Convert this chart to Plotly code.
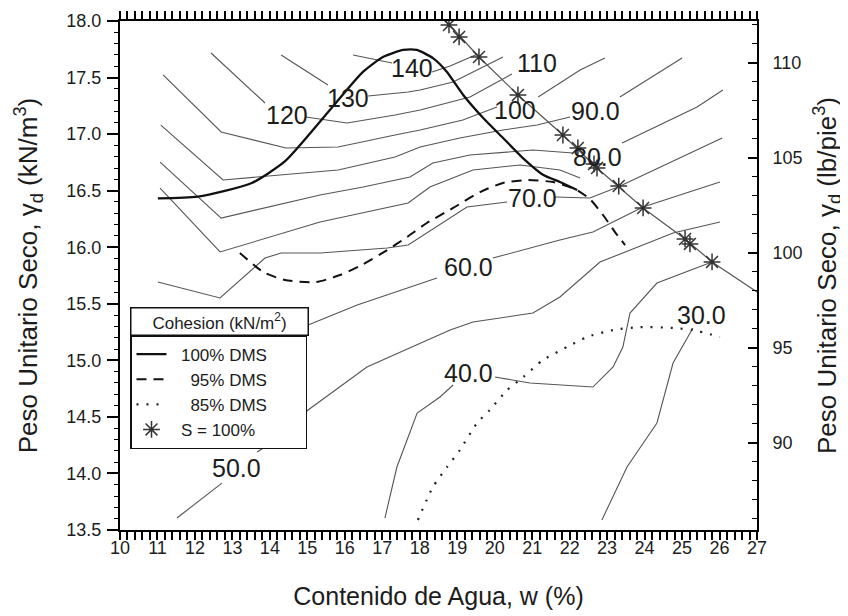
import plotly.graph_objects as go

# ---------------- data (w in %, gamma_d in kN/m3) ----------------
# cohesion contour polylines; None = gap where a label sits
c140_w = [16.22, 17.26, None, 18.33, 18.81, 19.55]
c140_g = [17.699, 17.629, None, 17.549, 17.602, 17.708]

c130_w = [14.30, 15.55, None, 16.62, 17.69, 18.01, 18.89, 20.22]
c130_g = [17.699, 17.434, None, 17.337, 17.372, 17.390, 17.461, 17.682]

c120_w = [12.43, 13.87, None, 14.96, 16.06, 17.34, 18.01, 19.34, 20.46]
c120_g = [17.717, 17.275, None, 17.151, 17.098, 17.169, 17.213, 17.328, 17.531]

c100_w = [11.15, 12.70, 14.43, 15.82, 17.34, 18.01, 19.15, 20.06, None, 21.16, 22.28, 22.94]
c100_g = [17.523, 17.019, 16.877, 16.886, 16.992, 17.036, 17.125, 17.240, None, 17.328, 17.567, 17.673]

c90_w = [11.09, 12.75, 15.82, 17.34, 18.01, 19.07, 20.22, 21.13, 22.01, None, 23.34, 25.00]
c90_g = [17.080, 16.594, 16.683, 16.797, 16.886, 16.966, 17.036, 17.080, 17.151, None, 17.328, 17.673]

c80_w = [11.07, 12.70, 15.34, 16.49, 17.74, 18.35, 19.34, 20.33, 21.02, 22.09, None, 23.40, 25.40, 26.09]
c80_g = [16.753, 16.258, 16.462, 16.532, 16.621, 16.744, 16.815, 16.842, 16.859, 16.833, None, 16.921, 17.240, 17.390]

c75_w = [11.07, 12.67, 15.34, 17.69, 18.27, 19.42, 20.68, 21.74, 22.28]
c75_g = [16.523, 15.958, 16.223, 16.391, 16.532, 16.683, 16.727, 16.683, 16.612]

c70_w = [11.01, 12.67, 13.87, 14.30, 15.34, 17.13, 17.69, 19.26, 20.33, None, 21.61, 22.54, 23.29, 26.07]
c70_g = [15.692, 15.551, 15.904, 15.949, 15.949, 15.993, 16.019, 16.355, 16.400, None, 16.444, 16.435, 16.532, 16.966]

c60_w = [14.40, 15.02, 16.33, 18.46, None, 19.95, 21.74, 22.62, 23.96, 26.01]
c60_g = [15.241, 15.312, 15.489, 15.728, None, 15.904, 16.064, 16.134, 16.355, 16.576]

c50_w = [11.52, 12.72, None, 13.66, 14.08, 15.02, 16.59, 18.81, 19.42, 21.02, 21.74, 22.81, 24.76, 26.01]
c50_g = [13.606, 13.915, None, 14.189, 14.278, 14.561, 14.941, 15.268, 15.339, 15.418, 15.560, 15.869, 16.126, 16.223]

c40_w = [17.07, 17.39, 17.93, 18.54, 18.89, None, 20.01, 20.94, 22.62, 23.16, 23.42, 23.61, 24.33, 25.80]
c40_g = [13.606, 14.057, 14.534, 14.676, 14.782, None, 14.852, 14.799, 14.764, 14.941, 15.118, 15.418, 15.683, 15.869]

c30_w = [22.86, 23.53, 24.33, 24.76, 25.29]
c30_g = [13.588, 14.057, 14.446, 14.976, 15.286]

contour_w = [c140_w, c130_w, c120_w, c100_w, c90_w, c80_w, c75_w, c70_w, c60_w, c50_w, c40_w, c30_w]
contour_g = [c140_g, c130_g, c120_g, c100_g, c90_g, c80_g, c75_g, c70_g, c60_g, c50_g, c40_g, c30_g]

label_text = ["140", "130", "120", "110", "100", "90.0", "80.0", "70.0", "60.0", "50.0", "40.0", "30.0"]
label_w = [17.79, 16.08, 14.46, 21.13, 20.54, 22.68, 22.73, 21.00, 19.31, 13.12, 19.29, 25.53]
label_g = [17.584, 17.319, 17.169, 17.629, 17.213, 17.204, 16.797, 16.435, 15.825, 14.048, 14.888, 15.400]

# compaction curves
dms100_w = [11.01, 12.08, 13.50, 14.39, 15.11, 15.64, 16.49, 17.03, 17.56, 17.92, 18.36, 18.72,
            19.16, 19.70, 20.23, 20.76, 21.30, 21.74, 22.20]
dms100_g = [16.432, 16.447, 16.565, 16.756, 17.021, 17.228, 17.552, 17.684, 17.744, 17.744, 17.670,
            17.552, 17.346, 17.140, 16.963, 16.786, 16.638, 16.577, 16.506]

dms95_w = [13.20, 13.82, 14.40, 15.23, 15.87, 16.40, 17.13, 17.66, 18.19, 18.89, 19.61, 20.22,
           20.86, 21.56, 22.14, 22.54, 22.89, 23.21, 23.48]
dms95_g = [15.949, 15.781, 15.710, 15.692, 15.754, 15.834, 15.975, 16.090, 16.214, 16.347, 16.488,
           16.568, 16.594, 16.576, 16.515, 16.426, 16.285, 16.134, 16.019]

dms85_w = [17.95, 18.35, 18.73, 19.07, 19.53, 19.87, 20.33, 20.76, 21.29, 21.93, 22.46, 23.16,
           23.88, 24.76, 25.29, 26.01]
dms85_g = [13.588, 13.880, 14.057, 14.207, 14.446, 14.561, 14.737, 14.852, 15.003, 15.118, 15.206,
           15.268, 15.294, 15.286, 15.268, 15.206]

# saturation line (S = 100 %) and its asterisk points
sat_w = [18.70, 19.58, 20.62, 21.82, 22.73, 23.96, 25.08, 25.80, 27.00]
sat_g = [18.000, 17.682, 17.346, 16.992, 16.700, 16.347, 16.073, 15.870, 15.604]
sat_pts_w = [18.78, 19.05, 19.58, 20.62, 21.82, 22.22, 22.65, 22.73, 23.31, 23.96, 25.08, 25.21, 25.80]
sat_pts_g = [17.965, 17.859, 17.682, 17.346, 16.992, 16.877, 16.736, 16.700, 16.541, 16.347, 16.073,
             16.029, 15.870]

legend_names = ["&nbsp;&nbsp;100% DMS&nbsp;&nbsp;&nbsp;&nbsp;&nbsp;&nbsp;&nbsp;",
                "&nbsp;&nbsp;&nbsp;&nbsp;95% DMS&nbsp;&nbsp;&nbsp;&nbsp;&nbsp;&nbsp;&nbsp;",
                "&nbsp;&nbsp;&nbsp;&nbsp;85% DMS&nbsp;&nbsp;&nbsp;&nbsp;&nbsp;&nbsp;&nbsp;",
                "&nbsp;&nbsp;S = 100%&nbsp;&nbsp;&nbsp;&nbsp;&nbsp;&nbsp;&nbsp;"]

x_range = [10, 27]
y_range = [13.5, 18.0]
y2_range = [85.42, 112.21]   # lb/pie3 scale as drawn on the right axis

# ---------------- figure ----------------
FONT = "Liberation Sans, Arial, sans-serif"
INK = "#1c1c1c"
fig = go.Figure()

for cw, cg in zip(contour_w, contour_g):
    fig.add_trace(go.Scatter(x=cw, y=cg, mode="lines", line=dict(color="#555555", width=1.1),
                             showlegend=False, hoverinfo="skip"))

fig.add_trace(go.Scatter(x=dms100_w, y=dms100_g, mode="lines", name=legend_names[0],
                         line=dict(color="#111111", width=2.3, shape="spline", smoothing=0.6)))
fig.add_trace(go.Scatter(x=dms95_w, y=dms95_g, mode="lines", name=legend_names[1],
                         line=dict(color="#111111", width=2.0, dash="10px,7px", shape="spline", smoothing=0.6)))
fig.add_trace(go.Scatter(x=dms85_w, y=dms85_g, mode="lines", name=legend_names[2],
                         line=dict(color="#222222", width=2.2, dash="2px,8px", shape="spline", smoothing=0.6)))
fig.add_trace(go.Scatter(x=sat_w, y=sat_g, mode="lines", line=dict(color="#555555", width=1.2),
                         showlegend=False, hoverinfo="skip"))
fig.add_trace(go.Scatter(x=sat_pts_w, y=sat_pts_g, mode="markers", name=legend_names[3],
                         marker=dict(symbol="asterisk-open", size=14, color="#333333",
                                     line=dict(color="#333333", width=1.5))))

# invisible trace bound to the right (lb/pie3) axis so it carries its ticks
fig.add_trace(go.Scatter(x=x_range, y=y2_range, xaxis="x", yaxis="y2", mode="markers",
                         marker=dict(opacity=0), showlegend=False, hoverinfo="skip"))

for t, lw, lg in zip(label_text, label_w, label_g):
    fig.add_annotation(x=lw, y=lg, text=t, showarrow=False, xref="x", yref="y",
                       font=dict(family=FONT, size=25, color=INK))

# legend title box
fig.add_annotation(xref="paper", yref="paper", x=0.0157, y=0.4381, xanchor="left", yanchor="top",
                   text="Cohesion (kN/m<sup>2</sup>)", showarrow=False, align="center",
                   width=172, height=22, borderpad=2, bordercolor="#111111", borderwidth=1.5,
                   bgcolor="white", font=dict(family=FONT, size=17, color=INK))

axis_common = dict(showline=True, linecolor="black", linewidth=2, showgrid=False,
                   zeroline=False, tickcolor="black",
                   tickfont=dict(family=FONT, size=18, color=INK))

fig.update_layout(
    width=840, height=608, template="none",
    paper_bgcolor="white", plot_bgcolor="white",
    margin=dict(l=112, r=91, t=13, b=86),
    font=dict(family=FONT, color=INK),
    showlegend=True,
    legend=dict(x=0.0157, y=0.383, xanchor="left", yanchor="top", bgcolor="white",
                bordercolor="#111111", borderwidth=1.5, font=dict(family=FONT, size=17, color=INK),
                tracegroupgap=0),
    xaxis=dict(range=x_range, tickmode="linear", tick0=10, dtick=1, ticks="outside", ticklen=8,
               tickwidth=2, ticklabelstandoff=-8, mirror="allticks",
               minor=dict(dtick=0.2, ticks="outside", ticklen=4, tickcolor="black", tickwidth=1.5),
               title=dict(text="Contenido de Agua, w (%)", font=dict(family=FONT, size=25, color=INK),
                          standoff=31),
               **axis_common),
    yaxis=dict(range=y_range, dtick=0.5, tickformat=".1f", ticks="outside", ticklen=11,
               tickwidth=1.5, ticklabelstandoff=2, mirror=False,
               minor=dict(dtick=0.1, ticks="outside", ticklen=4, tickcolor="black", tickwidth=1.2),
               title=dict(text="Peso Unitario Seco, γ<sub>d</sub> (kN/m<sup>3</sup>)",
                          font=dict(family=FONT, size=26, color=INK), standoff=21),
               **axis_common),
    yaxis2=dict(range=y2_range, tick0=90, dtick=5, ticks="inside", ticklen=9, tickwidth=1.5,
                overlaying="y", side="right", anchor="x",
                minor=dict(dtick=1, ticks="inside", ticklen=5, tickcolor="black", tickwidth=1.2),
                title=dict(text="Peso Unitario Seco, γ<sub>d</sub> (lb/pie<sup>3</sup>)",
                           font=dict(family=FONT, size=26, color=INK), standoff=16),
                ticklabelstandoff=10,
                **axis_common),
)

fig.write_html("out.html")
